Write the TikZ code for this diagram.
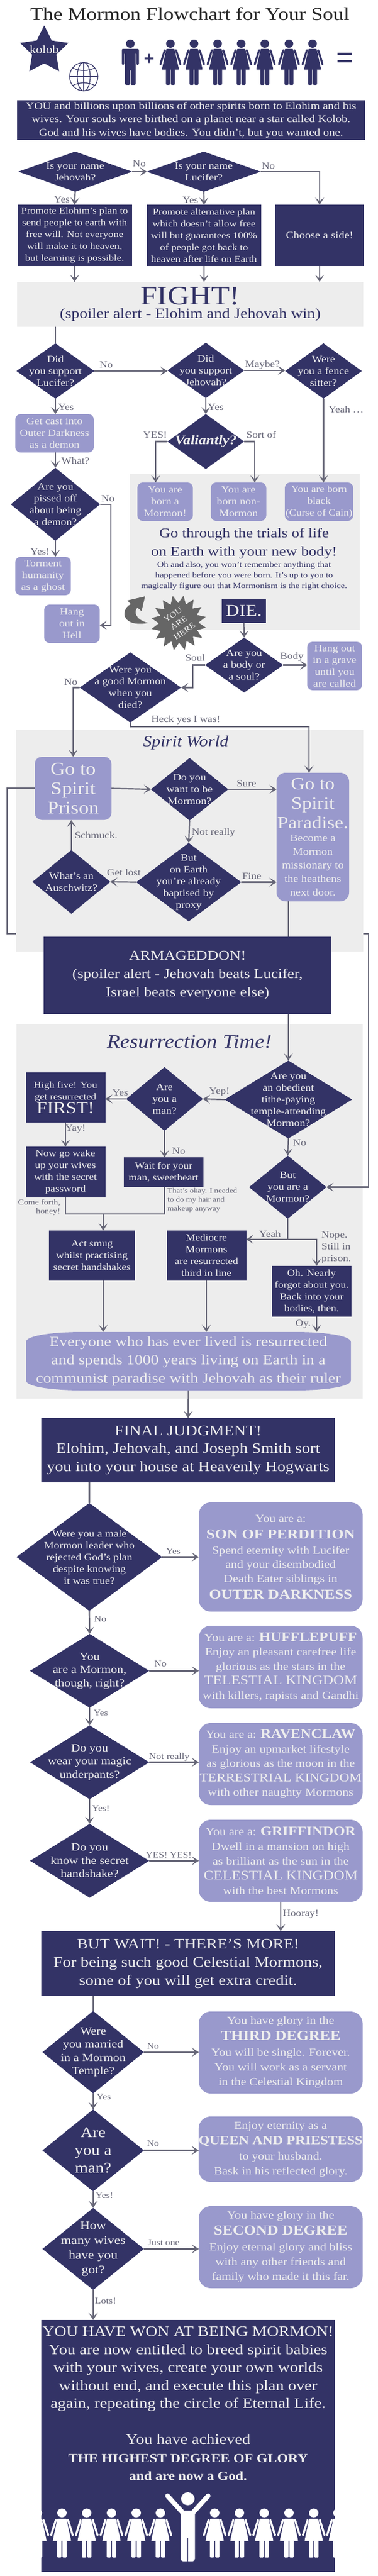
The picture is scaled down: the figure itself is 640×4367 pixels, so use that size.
\documentclass[tikz,border=0pt]{standalone}
\usepackage{fontspec}
\setmainfont[FakeStretch=1.14]{Liberation Serif}
\newfontfamily\signfont{Liberation Sans}
\usetikzlibrary{arrows.meta, calc, shapes.geometric}
\definecolor{navy}{HTML}{333366}
\definecolor{lilac}{HTML}{9999CC}
\definecolor{paper}{HTML}{EEEEEE}
\definecolor{panelgrey}{HTML}{EDEDED}
\definecolor{wire}{HTML}{666677}
\newcommand{\fsz}[2]{\fontsize{#1}{#2}\selectfont}
\tikzset{
    wh/.style 2 args={minimum width=#1pt, minimum height=#2pt},
    darkbox/.style={rectangle, fill=navy, text=paper, align=center, inner sep=0pt, outer sep=0pt},
    softbox/.style={rectangle, rounded corners=9pt, fill=lilac, text=paper, align=center, inner sep=0pt, outer sep=0pt},
    ask/.style={diamond, fill=navy, text=paper, align=center, inner sep=-60pt, outer sep=0pt, font=\fsz{16.5}{20}},
    panel/.style={rectangle, fill=panelgrey, inner sep=0pt, outer sep=0pt, align=center},
    flow/.style={draw=wire, line width=2.2pt, -{Stealth[length=12pt, width=15pt, inset=6pt]}},
    bare/.style={draw=wire, line width=2.2pt},
    lab/.style={text=wire, inner sep=0pt, font=\fsz{16}{18}},
    smalllab/.style={text=wire, inner sep=0pt, font=\fsz{13}{15}},
    note/.style={text=navy, inner sep=0pt, align=center},
    manfig/.pic={
        \fill (0,0) ellipse (7.4 and 7);
        \fill[rounded corners=1.5pt] (-14.5,9) -- (14.5,9) -- (14.5,36) -- (10.4,36) -- (10.4,16) -- (9,16) -- (9,70)
            -- (0.7,70) -- (0.7,44) -- (-0.7,44) -- (-0.7,70) -- (-9,70) -- (-9,16) -- (-10.4,16) -- (-10.4,36) -- (-14.5,36) -- cycle;
    },
    womanfig/.pic={
        \fill (0,0) ellipse (7.4 and 7);
        \fill[rounded corners=1pt] (-7,9) -- (7,9) -- (14.5,44) -- (-14.5,44) -- cycle;
        \draw[line width=3.4pt, line cap=round] (9.5,11) -- (17,35);
        \draw[line width=3.4pt, line cap=round] (-9.5,11) -- (-17,35);
        \fill[rounded corners=1.5pt] (-7.6,43) -- (-0.7,43) -- (-0.7,70) -- (-7.6,70) -- cycle;
        \fill[rounded corners=1.5pt] (7.6,43) -- (0.7,43) -- (0.7,70) -- (7.6,70) -- cycle;
    }
}
\begin{document}
\begin{tikzpicture}[x=1pt, y=-1pt]
    \useasboundingbox (0,0) rectangle (640,4367);

    % Title and the family
    \node[inner sep=0pt, text=black!85, font=\fsz{31}{30}] (title) at (322,24) {The Mormon Flowchart for Your Soul};
    \node[star, star points=5, star point ratio=2, minimum size=86pt, inner sep=-20pt, fill=navy, text=paper, font=\fsz{19}{19}] (kolob) at (75,86) {\raisebox{5pt}{kolob}};
    \begin{scope}[navy, line width=1.2pt, shift={(142,130)}]
        \draw (0,0) circle (24);
        \draw (0,0) ellipse (11 and 24);
        \draw (0,-24) -- (0,24);
        \draw (-24,0) -- (24,0);
        \draw (-19,-15) .. controls (-8,-9) and (8,-9) .. (19,-15);
        \draw (-19,15) .. controls (-8,9) and (8,9) .. (19,15);
    \end{scope}
    \pic[navy] at (221,74) {manfig};
    \foreach \wx in {289,329,369,409,449,490,530} {
        \pic[navy] at (\wx,74) {womanfig};
    }
    \node[inner sep=0pt, text=navy, font={\signfont\bfseries\fsz{30}{30}}] (plus) at (253,101) {+};
    \node[inner sep=0pt, text=navy, font={\signfont\fsz{50}{50}}] (equals) at (585.5,102) {=};

    \node[darkbox, wh={590}{67}, font=\fsz{17.5}{22.4}] (birth) at (324,203.5) {YOU and billions upon billions of other spirits born to Elohim and his\\wives. Your souls were birthed on a planet near a star called Kolob.\\God and his wives have bodies. You didn't, but you wanted one.};

    % Pick a side
    \node[ask, wh={193}{68}] (isjehovah) at (127.5,291) {Is your name\\Jehovah?};
    \node[ask, wh={193}{68}] (islucifer) at (345.5,291) {Is your name\\Lucifer?};
    \node[darkbox, wh={194}{104}, font=\fsz{15.5}{20}] (planelohim) at (126.5,399) {Promote Elohim's plan to\\send people to earth with\\free will. Not everyone\\will make it to heaven,\\but learning is possible.};
    \node[darkbox, wh={194}{104}, font=\fsz{15.5}{20}] (planlucifer) at (346,399) {Promote alternative plan\\which doesn't allow free\\will but guarantees 100\%\\of people got back to\\heaven after life on Earth};
    \node[darkbox, wh={150}{104}, font=\fsz{17}{20}] (chooseside) at (542,399) {Choose a side!};
    \node[panel, wh={587}{76}, text=navy] (fight) at (322.5,516) {\fsz{45}{38}FIGHT!\\[5pt]\fsz{24}{30}(spoiler alert - Elohim and Jehovah win)};
    \node[lab] (noa) at (236,277) {No};
    \node[lab] (nob) at (455,281) {No};
    \node[lab] (yesa) at (105,338) {Yes};
    \node[lab] (yesb) at (323,339) {Yes};
    \draw[flow] (isjehovah.east) -- (islucifer.west);
    \draw[flow] (islucifer.east) -- (islucifer.east -| chooseside.north) -- (chooseside.north);
    \draw[flow] (isjehovah.south) -- (planelohim.north);
    \draw[flow] (islucifer.south) -- (planlucifer.north);
    \draw[flow] (planelohim.south) -- (planelohim.south |- fight.north);
    \draw[flow] (planlucifer.south) -- (planlucifer.south |- fight.north);
    \draw[flow] (chooseside.south) -- (chooseside.south |- fight.north);

    % Pre-existence
    \node[panel, wh={390}{265}] (earthpanel) at (415,935.5) {};
    \node[ask, wh={132}{94}] (suplucifer) at (94,629) {Did\\you support\\Lucifer?};
    \node[ask, wh={130}{94}] (supjehovah) at (349,628) {Did\\you support\\Jehovah?};
    \node[ask, wh={130}{94}] (fence) at (548.5,629) {Were\\you a fence\\sitter?};
    \node[softbox, wh={133}{65}, font=\fsz{16.5}{20}] (castout) at (92.5,734.5) {Get cast into\\Outer Darkness\\as a demon};
    \node[ask, wh={130}{93}, font={\itshape\bfseries\fsz{22}{22}}] (valiant) at (349,748.5) {Valiantly?};
    \node[ask, wh={151}{124}] (pissed) at (94,855) {Are you\\pissed off\\about being\\a demon?};
    \node[softbox, wh={94}{65}, font=\fsz{16.5}{20}] (ghost) at (73,976.5) {Torment\\humanity\\as a ghost};
    \node[softbox, wh={94}{65}, font=\fsz{16.5}{20}] (hell) at (122,1057.5) {Hang\\out in\\Hell};
    \node[softbox, wh={94}{65}, font=\fsz{16.5}{20}] (bornmormon) at (280,850.5) {You are\\born a\\Mormon!};
    \node[softbox, wh={94}{65}, font=\fsz{16.5}{20}] (bornnon) at (404.5,850.5) {You are\\born non-\\Mormon};
    \node[softbox, wh={116}{65}, font=\fsz{16}{20}] (bornblack) at (541,850.5) {You are born\\black\\(Curse of Cain)};
    \node[note, font=\fsz{23}{31}] (trials) at (414,921) {Go through the trials of life\\on Earth with your new body!};
    \node[note, font=\fsz{13.5}{18}] (trialsfine) at (414,976) {Oh and also, you won't remember anything that\\happened before you were born. It's up to you to\\magically figure out that Mormonism is the right choice.};
    \node[lab] (nod) at (180,618) {No};
    \node[lab] (maybe) at (445,619) {Maybe?};
    \node[lab] (yesd) at (112,690) {Yes};
    \node[lab] (yese) at (366,690) {Yes};
    \node[lab] (yeah) at (587,694) {Yeah \dots};
    \node[lab] (what) at (128,781) {What?};
    \node[lab] (nof) at (183,845) {No};
    \node[lab] (yesf) at (68,935) {Yes!};
    \node[lab] (yesg) at (263,737) {YES!};
    \node[lab] (sortof) at (443,737) {Sort of};
    \coordinate (hellturn) at (188,1060);
    \draw[bare] (suplucifer.north |- fight.south) -- (suplucifer.north);
    \draw[flow] (suplucifer.east) -- (suplucifer.east -| supjehovah.west);
    \draw[flow] (supjehovah.east) -- (supjehovah.east -| fence.west);
    \draw[flow] (suplucifer.south) -- (suplucifer.south |- castout.north);
    \draw[flow] (pissed.north |- castout.south) -- (pissed.north);
    \draw[flow] (supjehovah.south) -- (valiant.north);
    \draw[flow] (pissed.south) -- (pissed.south |- ghost.north);
    \draw[flow] (pissed.east) -| (hellturn) -- (hellturn -| hell.east);
    \draw[flow] (valiant.west) -| ([xshift=-16pt]bornmormon.north);
    \draw[flow] (valiant.east) -| ([xshift=27.5pt]bornnon.north);
    \draw[flow] (fence.south) -- (fence.south |- bornblack.north);

    % You are here
    \fill[black!60] (251,1056) .. controls (232,1060) and (211,1056) .. (211,1040) .. controls (211,1033) and (216,1027) .. (222,1024)
        -- (216,1018) -- (246,1011) -- (240,1036) -- (233,1030) .. controls (227,1036) and (228,1050) .. (251,1056) -- cycle;
    \node[star, star points=16, star point ratio=1.4, minimum size=94pt, inner sep=-15pt, fill=black!60, text=paper, align=center, rotate=35, font=\fsz{14}{17}] (here) at (303,1056) {YOU\\ARE\\HERE};

    % Death
    \node[darkbox, wh={75}{41}, font=\fsz{28}{28}] (die) at (413.5,1035.5) {DIE.};
    \node[ask, wh={132}{93}] (bodysoul) at (414,1127.5) {Are you\\a body or\\a soul?};
    \node[softbox, wh={93}{82}, font=\fsz{16.5}{20}] (grave) at (567.5,1129) {Hang out\\in a grave\\until you\\are called};
    \node[ask, wh={172}{119}] (goodmormon) at (221,1165.5) {Were you\\a good Mormon\\when you\\died?};
    \node[lab] (soul) at (331,1115) {Soul};
    \node[lab] (body) at (495,1114) {Body};
    \node[lab] (noh) at (120,1156) {No};
    \node[lab] (heck) at (315,1221) {Heck yes I was!};
    \coordinate (soulbend) at (327,1165.5);
    \draw[flow] (die.south) -- (bodysoul.north);
    \draw[flow] (bodysoul.east) -- (bodysoul.east -| grave.west);
    \draw[flow] (bodysoul.west) -| (soulbend) -- (goodmormon.east);

    % Spirit World
    \node[panel, wh={589}{376}] (spiritpanel) at (321.5,1425) {};
    \node[note, font={\itshape\fsz{26}{26}}] (spiritworld) at (315,1259) {Spirit World};
    \node[softbox, rounded corners=12pt, wh={130}{107}, font=\fsz{30}{33}] (prison) at (124,1336.5) {Go to\\Spirit\\Prison};
    \node[ask, wh={131}{106}] (wantmormon) at (321.5,1338) {Do you\\want to be\\Mormon?};
    \node[softbox, rounded corners=15pt, wh={123}{218}] (paradise) at (530.5,1419) {};
    \node[note, text=paper, font=\fsz{29}{33}] (paradisehead) at (530.5,1362) {Go to\\Spirit\\Paradise.};
    \node[note, text=paper, font=\fsz{17}{23}] (paradisefine) at (530.5,1467) {Become a\\Mormon\\missionary to\\the heathens\\next door.};
    \node[ask, wh={178}{133}] (proxy) at (320,1495.5) {But\\on Earth\\you're already\\baptised by\\proxy};
    \node[ask, wh={132}{108}] (auschwitz) at (121,1495) {What's an\\Auschwitz?};
    \node[lab] (sure) at (418,1328) {Sure};
    \node[lab] (notreallya) at (362,1412) {Not really};
    \node[lab] (fine) at (427,1485) {Fine};
    \node[lab] (getlost) at (210,1479) {Get lost};
    \node[lab] (schmuck) at (163,1416) {Schmuck.};
    \coordinate (heckbend) at (524,1232);
    \draw[flow] (goodmormon.west) -| (prison.north);
    \draw[flow] (goodmormon.south) |- (heckbend) -- (heckbend |- paradise.north);
    \draw[flow] (prison.east) -- (wantmormon.west);
    \draw[flow] (wantmormon.east) -- (wantmormon.east -| paradise.west);
    \draw[flow] (wantmormon.south) -- (proxy.north);
    \draw[flow] (proxy.east) -- (proxy.east -| paradise.west);
    \draw[flow] (proxy.west) -- (auschwitz.east);
    \draw[flow] (auschwitz.north) -- (auschwitz.north |- prison.south);

    % Armageddon
    \node[darkbox, wh={488}{131}, font=\fsz{23}{31}] (armageddon) at (318,1653.5) {ARMAGEDDON!\\(spoiler alert - Jehovah beats Lucifer,\\Israel beats everyone else)};
    \node[panel, wh={587}{635}] (raisepanel) at (321.5,2053.5) {};
    \node[note, font={\itshape\fsz{32}{32}}] (raisetime) at (321,1766) {Resurrection Time!};
    \node[ask, wh={216}{132}, font=\fsz{16.5}{20}] (obedient) at (489,1864) {Are you\\an obedient\\tithe-paying\\temple-attending\\Mormon?};
    \node[ask, wh={130}{108}] (aremana) at (279,1863) {Are\\you a\\man?};
    \node[darkbox, wh={135}{85}, font=\fsz{15.5}{20}] (highfive) at (111,1860.5) {High five! You\\get resurrected\\\fsz{28}{28}FIRST!};
    \node[darkbox, wh={135}{86}, font=\fsz{16}{20}] (wake) at (111,1987) {Now go wake\\up your wives\\with the secret\\password};
    \node[darkbox, wh={135}{50}, font=\fsz{16}{20}] (sweetheart) at (277.5,1987) {Wait for your\\man, sweetheart};
    \node[ask, wh={131}{107}] (stillmormon) at (488,2012.5) {But\\you are a\\Mormon?};
    \node[darkbox, wh={146}{85}, font=\fsz{16}{20}] (smug) at (156,2128.5) {Act smug\\whilst practising\\secret handshakes};
    \node[darkbox, wh={135}{85}, font=\fsz{16}{20}] (mediocre) at (350,2128.5) {Mediocre\\Mormons\\are resurrected\\third in line};
    \node[darkbox, wh={135}{86}, font=\fsz{16}{20}] (nearly) at (528.5,2189) {Oh. Nearly\\forgot about you.\\Back into your\\bodies, then.};
    \fill[lilac] (44,2275) .. controls (44,2264) and (90,2258) .. (140,2258) -- (500,2258) .. controls (550,2258) and (595,2264) .. (595,2275)
        -- (595,2340) .. controls (595,2351) and (550,2357) .. (500,2357) -- (140,2357) .. controls (90,2357) and (44,2351) .. (44,2340) -- cycle;
    \node[rectangle, inner sep=0pt, outer sep=0pt, align=center, text=paper, wh={551}{99}, font=\fsz{24}{31}] (everyone) at (319.5,2307.5) {Everyone who has ever lived is resurrected\\and spends 1000 years living on Earth in a\\communist paradise with Jehovah as their ruler};
    \node[lab] (yep) at (372,1851) {Yep!};
    \node[lab] (yesh) at (204,1852) {Yes};
    \node[lab] (yay) at (128,1914) {Yay!};
    \node[lab] (noi) at (303,1951) {No};
    \node[lab] (noj) at (508,1937) {No};
    \node[smalllab, align=right, anchor=east] (comeforth) at (102.5,2046.5) {Come forth,\\honey!};
    \node[smalllab, align=left, anchor=west, font=\fsz{12}{15}] (needed) at (284,2035) {That's okay. I needed\\to do my hair and\\makeup anyway};
    \node[lab] (yeahb) at (458,2092) {Yeah};
    \node[lab, align=left, anchor=west, font=\fsz{16}{20}] (nope) at (545,2115) {Nope.\\Still in\\prison.};
    \node[lab] (oy) at (514,2245) {Oy.};
    \coordinate (leftrun) at (12,1583);
    \coordinate (rightrun) at (625,1583);
    \coordinate (joinwork) at (175,2058);
    \coordinate (fork) at (537,2101);
    \draw[bare] (prison.west) -- (prison.west -| leftrun) -- (leftrun) -- (leftrun -| spiritpanel.west);
    \draw[flow] (rightrun -| spiritpanel.east) -- (rightrun) |- (stillmormon.east);
    \draw[bare] (obedient.north |- paradise.south) -- (obedient.north |- armageddon.north);
    \draw[flow] (obedient.north |- armageddon.south) -- (obedient.north);
    \draw[flow] (obedient.west) -- (aremana.east);
    \draw[flow] (aremana.west) -- (aremana.west -| highfive.east);
    \draw[flow] (highfive.south) -- (wake.north);
    \draw[flow] (aremana.south) -- (aremana.south |- sweetheart.north);
    \draw[flow] (obedient.south) -- (stillmormon.north);
    \draw[bare] (wake.south) |- (joinwork);
    \draw[bare] (aremana.south |- sweetheart.south) |- (joinwork);
    \draw[flow] (joinwork) -- (joinwork |- smug.north);
    \draw[flow] (stillmormon.south) |- (fork) -- (fork |- nearly.north);
    \draw[flow] (stillmormon.south |- fork) -- (fork -| mediocre.east);
    \draw[flow] (joinwork |- smug.south) -- (joinwork |- everyone.north);
    \draw[flow] (mediocre.south) -- (mediocre.south |- everyone.north);
    \draw[flow] (fork |- nearly.south) -- (fork |- everyone.north);

    % Final judgment
    \node[darkbox, wh={498}{109}, font=\fsz{24.5}{30.5}] (judgment) at (319,2458.5) {FINAL JUDGMENT!\\Elohim, Jehovah, and Joseph Smith sort\\you into your house at Heavenly Hogwarts};
    \node[ask, wh={247}{183}] (perdition) at (151.5,2639.5) {Were you a male\\Mormon leader who\\rejected God's plan\\despite knowing\\it was true?};
    \node[ask, wh={202}{125}, font=\fsz{18.5}{22.5}] (rightq) at (152,2832.5) {You\\are a Mormon,\\though, right?};
    \node[ask, wh={202}{125}, font=\fsz{18.5}{22.5}] (underpants) at (152,2987.5) {Do you\\wear your magic\\underpants?};
    \node[ask, wh={202}{125}, font=\fsz{18.5}{22.5}] (handshake) at (152,3154.5) {Do you\\know the secret\\handshake?};
    \node[softbox, rounded corners=20pt, wh={277.5}{185}, font=\fsz{18.5}{24}] (outer) at (476,2639.5) {You are a:\\[4pt]{\fsz{23}{23}\bfseries SON OF PERDITION}\\[2pt]Spend eternity with Lucifer\\and your disembodied\\Death Eater siblings in\\[4pt]{\fsz{23}{23}\bfseries OUTER DARKNESS}};
    \node[softbox, rounded corners=20pt, wh={277.5}{140}, font=\fsz{18.5}{24.5}] (huffle) at (476,2826) {You are a: {\fsz{22}{22}\bfseries HUFFLEPUFF}\\Enjoy an pleasant carefree life\\glorious as the stars in the\\{\fsz{22}{22}TELESTIAL KINGDOM}\\with killers, rapists and Gandhi};
    \node[softbox, rounded corners=20pt, wh={277.5}{139}, font=\fsz{18.5}{24.5}] (raven) at (476,2990.5) {You are a: {\fsz{22}{22}\bfseries RAVENCLAW}\\Enjoy an upmarket lifestyle\\as glorious as the moon in the\\{\fsz{20.5}{21}TERRESTRIAL KINGDOM}\\with other naughty Mormons};
    \node[softbox, rounded corners=20pt, wh={277.5}{139}, font=\fsz{18.5}{25}] (griff) at (476,3154.5) {You are a: {\fsz{22}{22}\bfseries GRIFFINDOR}\\Dwell in a mansion on high\\as brilliant as the sun in the\\{\fsz{22}{22}CELESTIAL KINGDOM}\\with the best Mormons};
    \node[smalllab, font=\fsz{14.5}{16}] (yesk) at (294,2630) {Yes};
    \node[lab, font=\fsz{15}{16}] (nok) at (170,2745) {No};
    \node[lab, font=\fsz{15}{16}] (nol) at (272,2821) {No};
    \node[lab, font=\fsz{14.5}{16}] (yesl) at (171,2904) {Yes};
    \node[lab, font=\fsz{15}{16}] (notreallyb) at (287,2979) {Not really};
    \node[lab, font=\fsz{14.5}{16}] (yesm) at (171,3066) {Yes!};
    \node[lab, font=\fsz{14.5}{16}] (yesyes) at (286,3145) {YES! YES!};
    \node[lab] (hooray) at (510,3245) {Hooray!};
    \draw[flow] (everyone.south) -- (judgment.north);
    \draw[bare] (perdition.north |- judgment.south) -- (perdition.north);
    \draw[flow] (perdition.east) -- (perdition.east -| outer.west);
    \draw[flow] (perdition.south) -- (rightq.north);
    \draw[flow] (rightq.east) -- (rightq.east -| huffle.west);
    \draw[flow] (rightq.south) -- (underpants.north);
    \draw[flow] (underpants.east) -- (underpants.east -| raven.west);
    \draw[flow] (underpants.south) -- (handshake.north);
    \draw[flow] (handshake.east) -- (handshake.east -| griff.west);

    % Extra credit
    \node[darkbox, wh={498}{109}, font=\fsz{24.5}{31}] (butwait) at (319,3328.5) {BUT WAIT! - THERE'S MORE!\\For being such good Celestial Mormons,\\some of you will get extra credit.};
    \node[ask, wh={172}{140}, font=\fsz{18.5}{22.5}] (married) at (158,3479) {Were\\you married\\in a Mormon\\Temple?};
    \node[ask, wh={172}{139}, font=\fsz{25}{30}] (manb) at (158,3645.5) {Are\\you a\\man?};
    \node[ask, wh={172}{139}, font=\fsz{20}{25}] (howmany) at (158,3812.5) {How\\many wives\\have you\\got?};
    \node[softbox, rounded corners=20pt, wh={277.5}{139}, font=\fsz{18.5}{25}] (third) at (476,3479.5) {You have glory in the\\[2pt]{\fsz{23}{23}\bfseries THIRD DEGREE}\\[2pt]You will be single. Forever.\\You will work as a servant\\in the Celestial Kingdom};
    \node[softbox, rounded corners=20pt, wh={277.5}{111}, font=\fsz{18.5}{25}] (queen) at (476,3643.5) {Enjoy eternity as a\\[1pt]{\fsz{21}{22}\bfseries QUEEN AND PRIESTESS}\\[1pt]to your husband.\\Bask in his reflected glory.};
    \node[softbox, rounded corners=20pt, wh={277.5}{139}, font=\fsz{18.5}{25}] (second) at (476,3809.5) {You have glory in the\\[2pt]{\fsz{23}{23}\bfseries SECOND DEGREE}\\[2pt]Enjoy eternal glory and bliss\\with any other friends and\\family who made it this far.};
    \node[lab, font=\fsz{14.5}{16}] (non) at (259.5,3469) {No};
    \node[lab, font=\fsz{14.5}{16}] (yesn) at (176,3555) {Yes};
    \node[lab, font=\fsz{14.5}{16}] (noo) at (259.5,3634) {No};
    \node[lab, font=\fsz{14.5}{16}] (yeso) at (177,3722) {Yes!};
    \node[lab, font=\fsz{14.5}{16}] (justone) at (277.5,3802) {Just one};
    \node[lab, font=\fsz{15}{16}] (lots) at (179,3901) {Lots!};
    \draw[flow] (griff.south) -- (griff.south |- butwait.north);
    \draw[bare] (married.north |- butwait.south) -- (married.north);
    \draw[flow] (married.east) -- (married.east -| third.west);
    \draw[flow] (married.south) -- (manb.north);
    \draw[flow] (manb.east) -- (manb.east -| queen.west);
    \draw[flow] (manb.south) -- (howmany.north);
    \draw[flow] (howmany.east) -- (howmany.east -| second.west);

    % You win
    \node[darkbox, wh={498}{427}] (won) at (319,4146.5) {};
    \node[note, text=paper, font=\fsz{24.5}{30.5}] (wontext) at (319,4016) {YOU HAVE WON AT BEING MORMON!\\You are now entitled to breed spirit babies\\with your wives, create your own worlds\\without end, and execute this plan over\\again, repeating the circle of Eternal Life.};
    \node[note, text=paper, font=\fsz{24.5}{30.5}] (godtext) at (319,4166) {You have achieved\\{\bfseries\fsz{21}{21}THE HIGHEST DEGREE OF GLORY}\\{\bfseries\fsz{21}{21}and are now a God.}};
    \draw[flow] (howmany.south) -- (howmany.south |- won.north);
    \begin{scope}
        \clip (won.north west) rectangle (won.south east);
        \foreach \wx in {63.5,105,147,189,231,272,364,406,448,490,532,573} {
            \pic[white, scale=1.08] at (\wx,4260) {womanfig};
        }
    \end{scope}
    \fill[white] (318.5,4236) ellipse (11.5 and 11);
    \draw[white, line width=8pt, line cap=round, line join=round] (284,4231) -- (312,4262) -- (325,4262) -- (353,4231);
    \fill[white, rounded corners=4pt] (306.5,4256) rectangle (330.5,4342);
    \draw[navy, line width=0.8pt] (318.5,4303) -- (318.5,4342);
\end{tikzpicture}
\end{document}
